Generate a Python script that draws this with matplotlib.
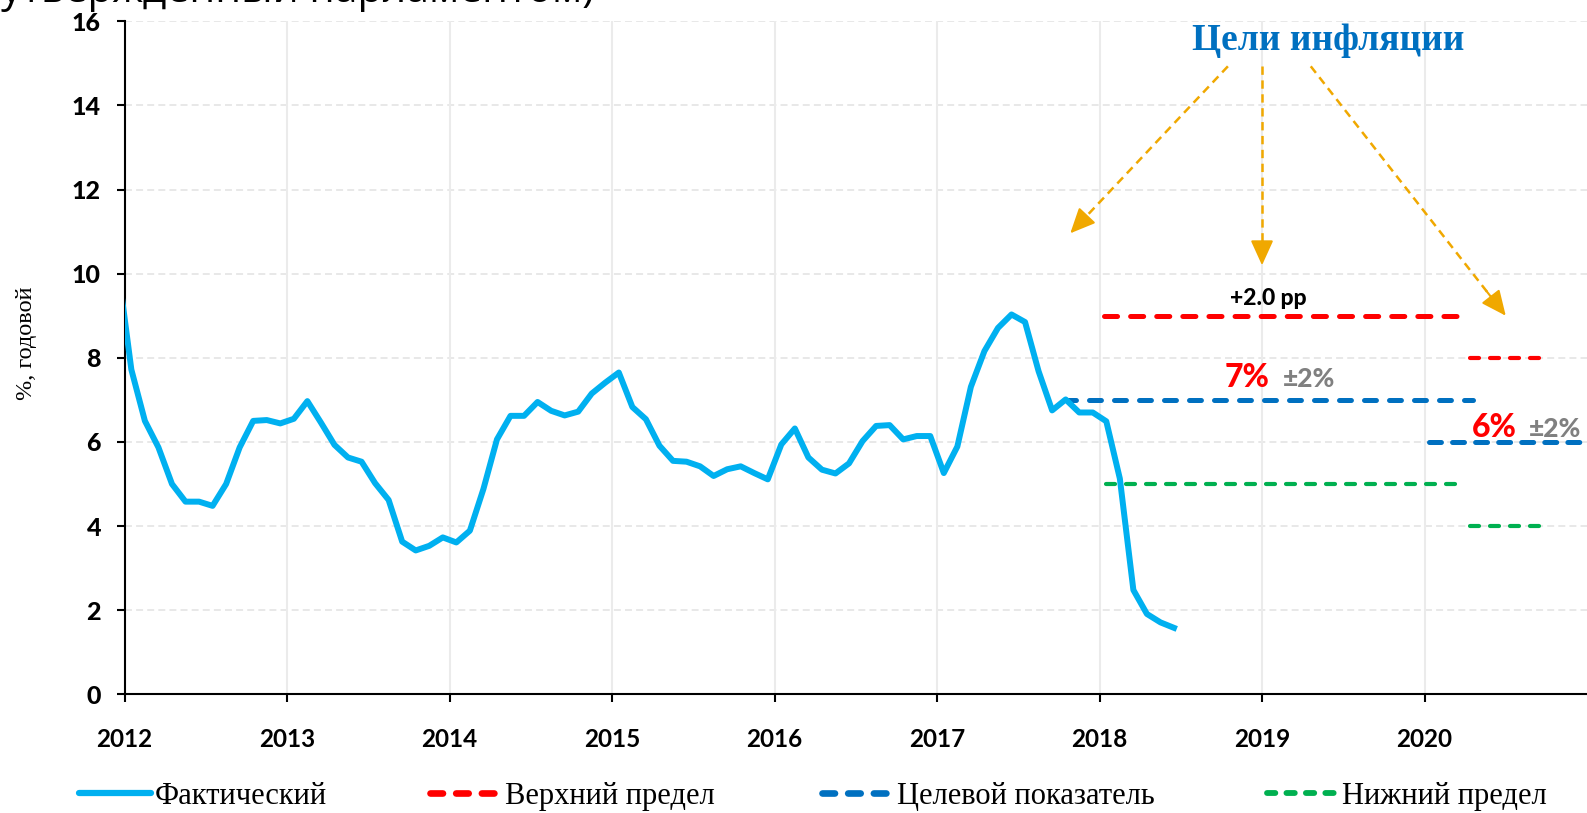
import numpy as np
import matplotlib
matplotlib.use("Agg")
import matplotlib.pyplot as plt
from matplotlib.lines import Line2D

plt.rcParams['lines.scale_dashes'] = False

# --- данные ---
# фактическая инфляция, % г/г, помесячно с декабря 2011 по июнь 2018
actual_start = 2011 + 11 / 12   # декабрь 2011
actual = [10.18,
          7.72, 6.50, 5.87, 5.00, 4.58, 4.58, 4.48, 5.00, 5.87, 6.50, 6.52, 6.44,
          6.55, 6.97, 6.46, 5.93, 5.63, 5.53, 5.02, 4.62, 3.63, 3.42, 3.53, 3.73,
          3.61, 3.89, 4.88, 6.06, 6.62, 6.62, 6.95, 6.74, 6.63, 6.72, 7.15, 7.41,
          7.65, 6.83, 6.54, 5.91, 5.55, 5.53, 5.42, 5.19, 5.35, 5.42, 5.26, 5.11,
          5.94, 6.32, 5.63, 5.34, 5.25, 5.49, 6.02, 6.38, 6.40, 6.06, 6.14, 6.14,
          5.26, 5.89, 7.31, 8.16, 8.71, 9.03, 8.85, 7.68, 6.75, 7.01, 6.70, 6.70,
          6.49, 5.13, 2.48, 1.91, 1.71, 1.58]
actual_x = actual_start + (np.arange(len(actual)) + 0.5) / 12

# цели (7% +-2% до 2020, затем 6% +-2%)
upper_x, upper_y = [2018.03, 2020.21], [9, 9]
upper2_x, upper2_y = [2020.28, 2020.72], [8, 8]
target_x, target_y = [2017.78, 2020.30], [7, 7]
target2_x, target2_y = [2020.03, 2021.0], [6, 6]
lower_x, lower_y = [2018.04, 2020.25], [5, 5]
lower2_x, lower2_y = [2020.28, 2020.72], [4, 4]

years = list(range(2012, 2021))
yticks = list(range(0, 17, 2))

c_act = '#00B0F0'
c_up = '#FF0000'
c_tg = '#0070C0'
c_lo = '#00B050'
c_arr = '#F0A800'

fig = plt.figure(figsize=(15.87, 8.13), dpi=100)
ax = fig.add_axes([0.0785, 0.146, 0.9215, 0.8278])

# сетка
for yv in yticks[1:]:
    ax.axhline(yv, color='#E4E4E4', lw=1.2, dashes=(5, 3), zorder=0)
for xv in years[1:]:
    ax.axvline(xv, color='#EBEBEB', lw=1.5, zorder=0)

ax.plot(actual_x, actual, color=c_act, lw=4.3, solid_joinstyle='round', zorder=3)
ax.plot(upper_x, upper_y, color=c_up, lw=3.6, dashes=(9.4, 9.4),
        dash_capstyle='round', zorder=2)
ax.plot(upper2_x, upper2_y, color=c_up, lw=3.0, dashes=(6.5, 7.9),
        dash_capstyle='round', zorder=2)
ax.plot(target_x, target_y, color=c_tg, lw=3.6, dashes=(8.6, 9.4),
        dash_capstyle='round', zorder=2)
ax.plot(target2_x, target2_y, color=c_tg, lw=3.6, dashes=(8.6, 8.0),
        dash_capstyle='round', zorder=2)
ax.plot(lower_x, lower_y, color=c_lo, lw=3.0, dashes=(6.5, 7.9),
        dash_capstyle='round', zorder=2)
ax.plot(lower2_x, lower2_y, color=c_lo, lw=3.0, dashes=(6.5, 7.9),
        dash_capstyle='round', zorder=2)

ax.set_xlim(2012, 2021)
ax.set_ylim(0, 16)
ax.set_xticks(years)
ax.set_xticklabels([str(y) for y in years], fontfamily='Lato', fontweight='bold', fontsize=17.5)
ax.set_yticks(yticks)
ax.set_yticklabels([str(v) for v in yticks], fontfamily='Lato', fontweight='black', fontsize=18)
ax.tick_params(axis='both', direction='out', length=6, width=1.5, color='black')
ax.tick_params(axis='y', pad=11)
ax.tick_params(axis='x', pad=18)
for s in ['top', 'right']:
    ax.spines[s].set_visible(False)
for s in ['left', 'bottom']:
    ax.spines[s].set_linewidth(1.5)
ax.set_ylabel('%, годовой', fontfamily='Liberation Serif', fontsize=17.5)
ax.yaxis.set_label_coords(-0.060, 0.522)

# подписи
ax.text(2019.41, 15.32, 'Цели инфляции', color=c_tg, fontfamily='Liberation Serif',
        fontweight='bold', fontsize=27, ha='center', va='baseline')
arrows = [((2018.79, 14.93), (2017.82, 10.96)),
          ((2019.00, 14.93), (2019.00, 10.20)),
          ((2019.30, 14.93), (2020.50, 9.00))]
for (x0, y0), (x1, y1) in arrows:
    ax.plot([x0, x1 - 0.06 * (x1 - x0)], [y0, y1 - 0.06 * (y1 - y0)], color=c_arr,
            lw=1.8, dashes=(6, 4))
    ax.annotate('', xy=(x1, y1), xytext=(x1 - 0.1 * (x1 - x0), y1 - 0.1 * (y1 - y0)),
                arrowprops=dict(arrowstyle='-|>,head_length=1.1,head_width=0.5',
                                color=c_arr, lw=1.5, mutation_scale=14,
                                shrinkA=0, shrinkB=0))

ax.text(2019.04, 9.25, '+2.0 pp', fontfamily='Lato', fontweight='black', fontsize=16.5,
        ha='center', va='baseline')
ax.text(2018.77, 7.30, '7%', color=c_up, fontfamily='Lato', fontweight='black',
        fontsize=23, ha='left', va='baseline')
ax.text(2019.13, 7.30, '±2%', color='#808080', fontfamily='Lato', fontweight='black',
        fontsize=19, ha='left', va='baseline')
ax.text(2020.29, 6.12, '6%', color=c_up, fontfamily='Lato', fontweight='black',
        fontsize=23, ha='left', va='baseline')
ax.text(2020.64, 6.12, '±2%', color='#808080', fontfamily='Lato', fontweight='black',
        fontsize=19, ha='left', va='baseline')

# обрезанный заголовок сверху
fig.text(594 / 1587, 1 - 2 / 813, '(утвержденный парламентом)', fontfamily='Open Sans',
         fontsize=29.5, ha='right', va='baseline')

# легенда: четыре элемента с фиксированными позициями
leg_handles = [
    Line2D([], [], color=c_act, lw=4.5, solid_capstyle='round'),
    Line2D([], [], color=c_up, lw=4.8, dashes=(9.0, 9.5), dash_capstyle='round'),
    Line2D([], [], color=c_tg, lw=4.8, dashes=(9.0, 9.5), dash_capstyle='round'),
    Line2D([], [], color=c_lo, lw=4.2, dashes=(6.0, 8.0), dash_capstyle='round'),
]
leg_labels = ['Фактический', 'Верхний предел', 'Целевой показатель', 'Нижний предел']
leg_pos = [79, 430, 822, 1267]
for h, lab, xp in zip(leg_handles, leg_labels, leg_pos):
    fig.legend(handles=[h], labels=[lab], loc='center left',
               bbox_to_anchor=(xp / 1587, 1 - 796 / 813),
               frameon=False, borderpad=0, borderaxespad=0, handlelength=2.35,
               handletextpad=0.12, prop={'family': 'Liberation Serif', 'size': 22})

fig.savefig('out.png', dpi=100)
